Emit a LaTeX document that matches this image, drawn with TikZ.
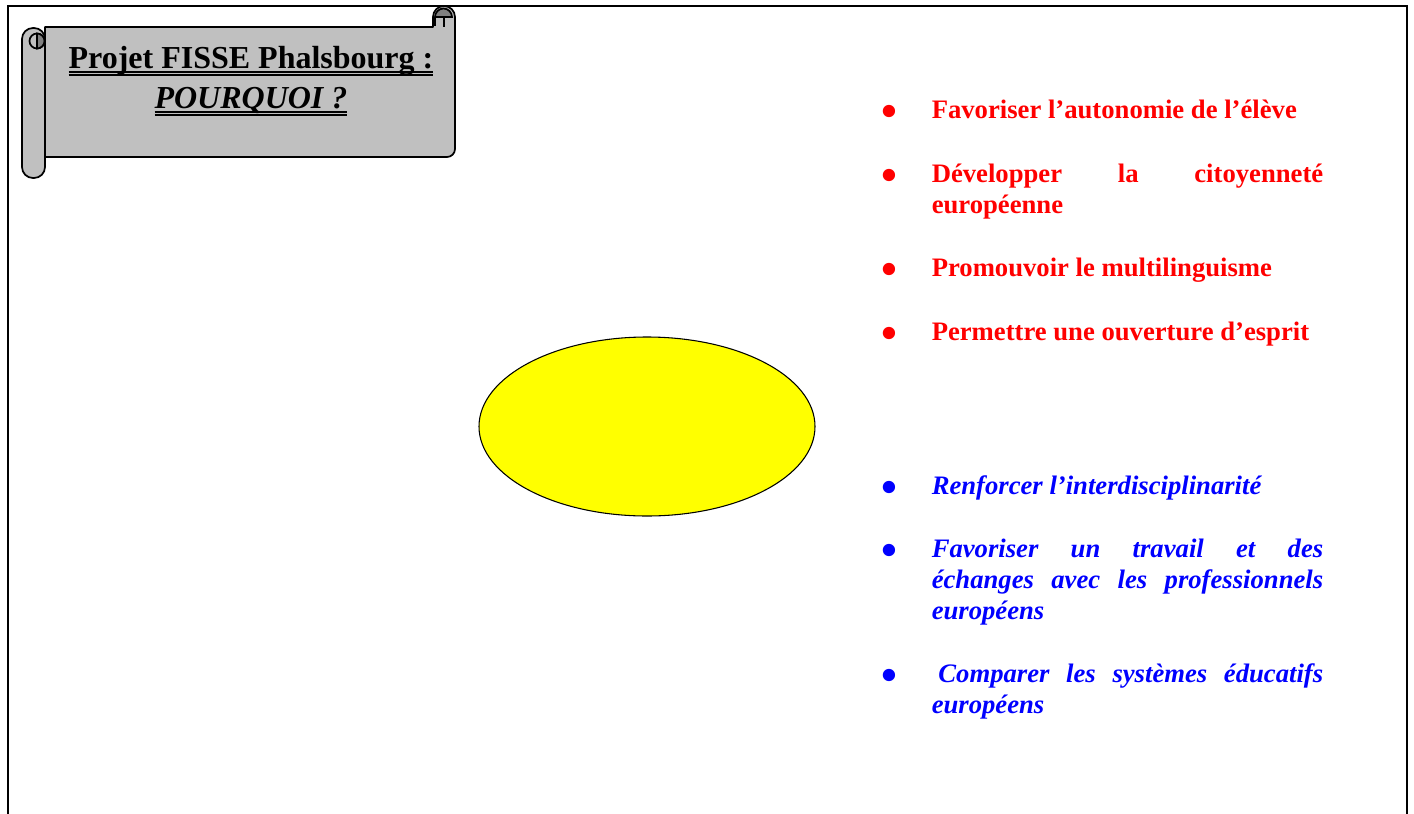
\documentclass[tikz,border=0pt]{standalone}
\usepackage{fontspec}
\setmainfont{Liberation Serif}
\usepackage{tikz}
\usetikzlibrary{shapes.geometric}

\definecolor{scrollgray}{HTML}{C0C0C0}
\definecolor{curlgray}{HTML}{808080}
\definecolor{hubyellow}{RGB}{255,255,0}
\newcommand\dbul[1]{\setbox0\hbox{#1}\rlap{\rule[-3.5pt]{\wd0}{1pt}}\rlap{\rule[-5.8pt]{\wd0}{1pt}}\box0}
\newcommand\puce[1]{\noindent\hangindent=37.5pt\hangafter=1%
  \makebox[37.5pt][l]{\raisebox{-6.3pt}{\fontsize{34}{34}\selectfont\upshape •}}#1\par}
\hyphenpenalty=10000
\exhyphenpenalty=10000
\tolerance=10000

\begin{document}
\begin{tikzpicture}[x=0.75pt, y=-0.75pt,
    pageframe/.style={line width=1.5pt},
    scroll/.style={draw, fill=scrollgray, line width=1.3pt, line join=round},
    curl/.style={draw, fill=curlgray, line width=1.3pt},
    title/.style={inner sep=0pt, anchor=base, font=\fontsize{24}{30}\selectfont\bfseries},
    hub/.style={ellipse, draw, fill=hubyellow, line width=0.8pt, minimum width=252pt, minimum height=134.25pt},
    aim/.style={anchor=base west, inner sep=0pt, text width=331.1pt, align=justify,
      font=\fontsize{20}{23.25}\selectfont\bfseries},
    aimred/.style={aim, text=red},
    aimblue/.style={aim, text=blue, font=\fontsize{20}{23.25}\selectfont\bfseries\itshape},
  ]
  \useasboundingbox (0,0) rectangle (1414,814);

  % page frame, open at the bottom
  \draw[pageframe] (8,814) -- (8,6) -- (1407,6) -- (1407,814);

  % scroll banner
  \path[scroll] (45,27) -- (433,27) -- (433,17) arc (180:360:11) -- (455,149)
    arc (0:90:8) -- (45,157) -- cycle;
  \path[curl] (435,17) arc (180:360:8.5) -- cycle;
  \draw[line width=1.3pt] (435,17) -- (435,26) (444,17) -- (444,27);
  \path[scroll, rounded corners=8.2pt] (22,28) rectangle (45,178);
  \path[scroll] (37,41) circle (7.5);
  \path[curl] (37,33.5) arc (270:450:7.5) -- cycle;

  \node[title] (t1) at (251,68) {\dbul{Projet FISSE Phalsbourg :}};
  \node[title] (t2) at (251,108) {\itshape\dbul{POURQUOI ?}};

  % centre
  \node[hub] (hub) at (647,426.5) {};

  % goals
  \node[aimred] (r1) at (881.5,118) {\puce{Favoriser l’autonomie de l’élève}};
  \node[aimred] (r2) at (881.5,182) {\puce{Développer la citoyenneté\linebreak européenne}};
  \node[aimred] (r3) at (881.5,276) {\puce{Promouvoir le multilinguisme}};
  \node[aimred] (r4) at (881.5,340) {\puce{Permettre une ouverture d’esprit}};

  \node[aimblue] (b1) at (881.5,494) {\puce{Renforcer l’interdisciplinarité}};
  \node[aimblue] (b2) at (881.5,557) {\puce{Favoriser un travail et des\linebreak
    échanges avec les professionnels\linebreak européens}};
  \node[aimblue] (b3) at (881.5,682) {\puce{\kern5pt Comparer les systèmes éducatifs\linebreak
    européens}};
\end{tikzpicture}
\end{document}
